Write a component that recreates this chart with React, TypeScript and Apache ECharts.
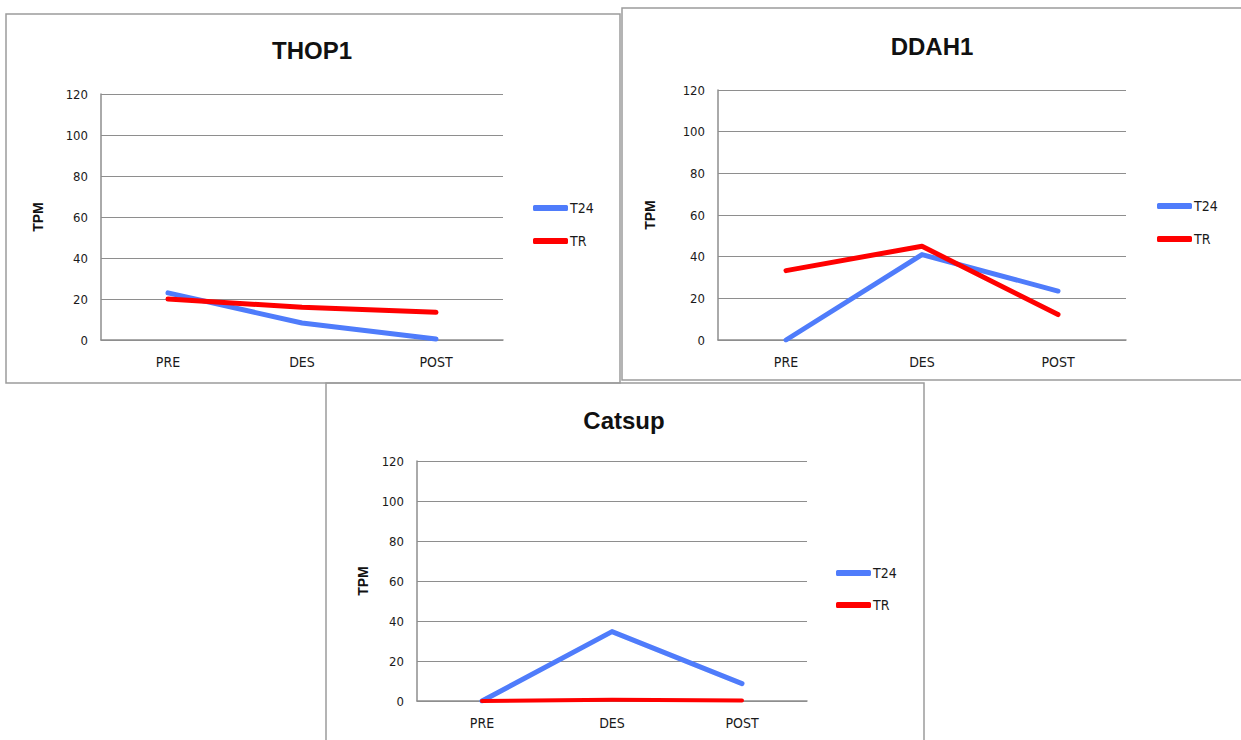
import React, { useEffect, useRef } from "react";
import * as echarts from "echarts";

const categories = ["PRE", "DES", "POST"];
const panelTitles = ["THOP1", "DDAH1", "Catsup"];
const seriesNames = ["T24", "TR"];
const thop1T24 = [23, 8.3, 0.5];
const thop1TR = [20, 16, 13.5];
const ddah1T24 = [0, 41, 23.5];
const ddah1TR = [33.3, 45, 12.2];
const catsupT24 = [0, 34.7, 8.7];
const catsupTR = [0, 0.6, 0.2];
const yMin = 0;
const yMax = 120;
const yStep = 20;

const BLUE = "#4F7CFB";
const RED = "#FF0000";
const GRID_GRAY = "#8e8e8e";
const FONT = "'Liberation Sans Narrow', 'DejaVu Sans Condensed', 'Liberation Sans', sans-serif";

const layouts = [
  { grid: { left: 101, top: 94, width: 402, height: 246 }, title: { x: 312, y: 50 }, legend: { left: 533, top: 201, gap: 19 }, nameGap: 56, border: { x: 6, y: 14, width: 614, height: 369 } },
  { grid: { left: 718, top: 90, width: 408, height: 250 }, title: { x: 932, y: 46 }, legend: { left: 1157, top: 199, gap: 19 }, nameGap: 61, border: { x: 622, y: 8, width: 640, height: 372 } },
  { grid: { left: 417, top: 461, width: 390, height: 240 }, title: { x: 624, y: 420 }, legend: { left: 836, top: 566, gap: 18 }, nameGap: 47, border: { x: 326, y: 383, width: 598, height: 380 } },
];

const panelData = [
  [thop1T24, thop1TR],
  [ddah1T24, ddah1TR],
  [catsupT24, catsupTR],
];

export default function App() {
  const ref = useRef<HTMLDivElement>(null);
  useEffect(() => {
    if (!ref.current) return;
    const chart = echarts.init(ref.current, null, { renderer: "svg" });
    const option: any = {
      animation: false,
      backgroundColor: "#ffffff",
      title: layouts.map((l, i) => ({
        text: panelTitles[i],
        left: l.title.x,
        top: l.title.y,
        textAlign: "center",
        textVerticalAlign: "middle",
        padding: 0,
        textStyle: { fontFamily: "'Liberation Sans', sans-serif", fontWeight: "bold", fontSize: 24, color: "#111" },
      })),
      legend: layouts.map((l) => ({
        data: seriesNames,
        orient: "vertical",
        left: l.legend.left,
        top: l.legend.top,
        itemGap: l.legend.gap,
        itemWidth: 35,
        itemHeight: 6,
        icon: "roundRect",
        padding: 0,
        selectedMode: false,
        textStyle: { fontFamily: FONT, fontSize: 14, color: "#1a1a1a", padding: [0, 0, 0, -3] },
      })),
      grid: layouts.map((l) => ({ ...l.grid, containLabel: false })),
      xAxis: layouts.map((l, i) => ({
        type: "category",
        gridIndex: i,
        data: categories,
        boundaryGap: true,
        axisLine: { show: true, lineStyle: { color: GRID_GRAY, width: 1.5 } },
        axisTick: { show: false },
        axisLabel: { fontFamily: FONT, fontSize: 14, color: "#1a1a1a", margin: 15 },
      })),
      yAxis: layouts.map((l, i) => ({
        type: "value",
        gridIndex: i,
        min: yMin,
        max: yMax,
        interval: yStep,
        name: "TPM",
        nameLocation: "middle",
        nameGap: l.nameGap,
        nameTextStyle: { fontFamily: "'Liberation Sans', sans-serif", fontWeight: "bold", fontSize: 14, color: "#111" },
        axisLine: { show: true, lineStyle: { color: GRID_GRAY, width: 1.5 } },
        axisTick: { show: false },
        axisLabel: { fontFamily: FONT, fontSize: 13, color: "#1a1a1a", margin: 13 },
        splitLine: { show: true, lineStyle: { color: GRID_GRAY, width: 1.2 } },
      })),
      series: panelData.flatMap((pair, i) =>
        pair.map((vals, j) => ({
          name: seriesNames[j],
          type: "line",
          xAxisIndex: i,
          yAxisIndex: i,
          data: vals,
          showSymbol: false,
          symbol: "none",
          color: j === 0 ? BLUE : RED,
          lineStyle: { width: i === 2 && j === 1 ? 4 : 5, color: j === 0 ? BLUE : RED, cap: "round", join: "round" },
          itemStyle: { color: j === 0 ? BLUE : RED },
          z: 2 + j,
        }))
      ),
      graphic: layouts.map((l) => ({
        type: "rect",
        shape: { x: l.border.x, y: l.border.y, width: l.border.width, height: l.border.height },
        style: { fill: "none", stroke: "#9c9c9c", lineWidth: 1.5 },
        silent: true,
        z: 100,
      })),
    };
    chart.setOption(option);
    return () => chart.dispose();
  }, []);
  return (
    <div
      ref={ref}
      style={{ position: "fixed", left: 0, top: 0, width: 1241, height: 740 }}
    />
  );
}
